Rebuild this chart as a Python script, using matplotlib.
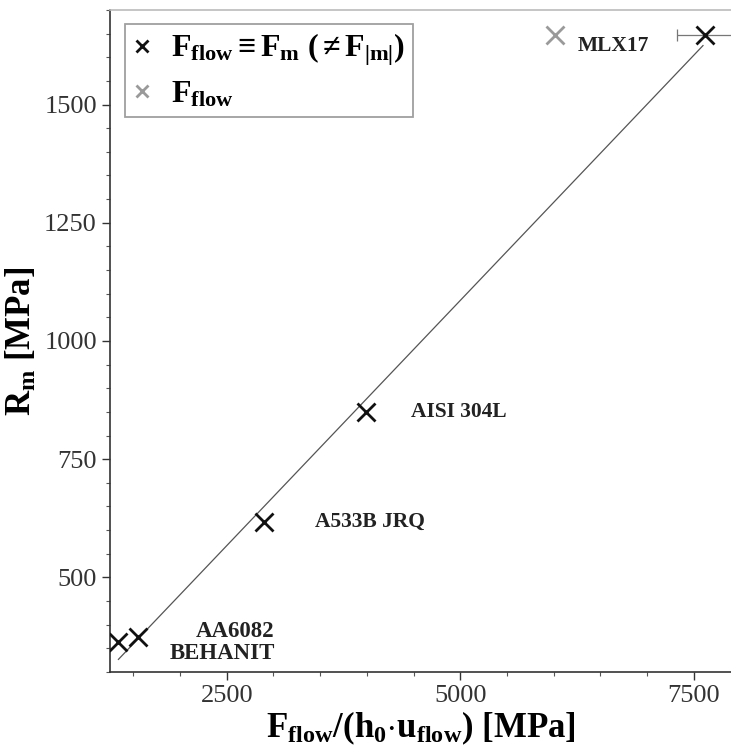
import numpy as np
import matplotlib
matplotlib.use("Agg")
import matplotlib.pyplot as plt
from matplotlib.ticker import MultipleLocator

plt.rcParams["font.family"] = ["Liberation Serif", "DejaVu Serif"]
plt.rcParams["mathtext.fontset"] = "custom"
plt.rcParams["mathtext.rm"] = "Liberation Serif"
plt.rcParams["mathtext.it"] = "Liberation Serif:italic"
plt.rcParams["mathtext.bf"] = "Liberation Serif:bold"

# Materials evaluated with F_flow = F_m
materials = ["BEHANIT", "AA6082", "A533B JRQ", "AISI 304L", "MLX17"]
f_norm = [1340, 1550, 2900, 3990, 7620]      # F_flow/(h0*u_flow) [MPa]
rm = [363, 374, 617, 850, 1648]              # R_m [MPa]
f_norm_err = [0, 0, 0, 0, 300]

# MLX17 evaluated with F_flow only
flow_only_x = [6020]
flow_only_y = [1648]

fig = plt.figure(figsize=(7.31, 7.5), dpi=100)
ax = fig.add_axes([0.1505, 0.104, 0.8495, 0.8827])

# Linear regression through the F_flow = F_m points
slope, intercept = np.polyfit(f_norm, rm, 1)
xfit = np.array([min(f_norm), max(f_norm) - 20])
ax.plot(xfit, slope * xfit + intercept, color="#555555", lw=0.9, zorder=1)

ax.errorbar(f_norm[-1:], rm[-1:], xerr=f_norm_err[-1:], fmt="none",
            ecolor="#777777", elinewidth=0.9, capsize=4, capthick=0.9, zorder=2)
ax.plot(f_norm, rm, ls="none", marker="x", ms=13, mew=2, color="#111111", zorder=3)
ax.plot(flow_only_x, flow_only_y, ls="none", marker="x", ms=13, mew=2,
        color="#9a9a9a", zorder=3)

# Legend proxies
h1, = ax.plot([], [], ls="none", marker="x", ms=8, mew=2, color="#111111")
h2, = ax.plot([], [], ls="none", marker="x", ms=8, mew=2, color="#9a9a9a")
leg = ax.legend([h1, h2],
                [r"$\mathbf{F_{flow} \equiv F_{m}\ (\neq F_{|m|})}$",
                 r"$\mathbf{F_{flow}}$"],
                loc="upper left", bbox_to_anchor=(0.024, 0.979), borderaxespad=0,
                fontsize=23, frameon=True, fancybox=False, handlelength=0.6,
                handletextpad=0.6, borderpad=0.25, labelspacing=0.35)
leg.get_frame().set_edgecolor("#888888")
leg.get_frame().set_linewidth(1.3)

lab_kw = dict(fontsize=15.5, fontweight="bold", color="#222222")
ax.text(4474, 850, "AISI 304L", va="center", ha="left", **lab_kw)
ax.text(3444, 617, "A533B JRQ", va="center", ha="left", **lab_kw)
ax.text(6255, 1623, "MLX17", va="center", ha="left", **lab_kw)
ax.text(3015, 363, "AA6082\nBEHANIT", va="center", ha="right",
        linespacing=1.05, multialignment="right",
        **{**lab_kw, "fontsize": 16.5})

ax.set_xlim(1250, 7900)
ax.set_ylim(300, 1700)
ax.xaxis.set_major_locator(MultipleLocator(2500))
ax.xaxis.set_minor_locator(MultipleLocator(500))
ax.yaxis.set_major_locator(MultipleLocator(250))
ax.yaxis.set_minor_locator(MultipleLocator(50))
ax.tick_params(which="major", direction="out", length=6, width=1.0,
               color="#333333", labelsize=19, labelcolor="#333333")
ax.tick_params(which="minor", direction="out", length=3, width=0.8, color="#555555")

ax.spines["right"].set_visible(False)
ax.spines["top"].set_color("#bbbbbb")
ax.spines["top"].set_linewidth(1.2)
for s in ("left", "bottom"):
    ax.spines[s].set_color("#333333")
    ax.spines[s].set_linewidth(1.2)

ax.set_xlabel(r"$\mathbf{F_{flow}/(h_{0}{\cdot}u_{flow})}$ [MPa]",
              fontsize=25, fontweight="bold", labelpad=2)
ax.set_ylabel(r"$\mathbf{R_{m}}$ [MPa]", fontsize=25, fontweight="bold", labelpad=4)

fig.savefig("out.png", dpi=100, facecolor="white")
